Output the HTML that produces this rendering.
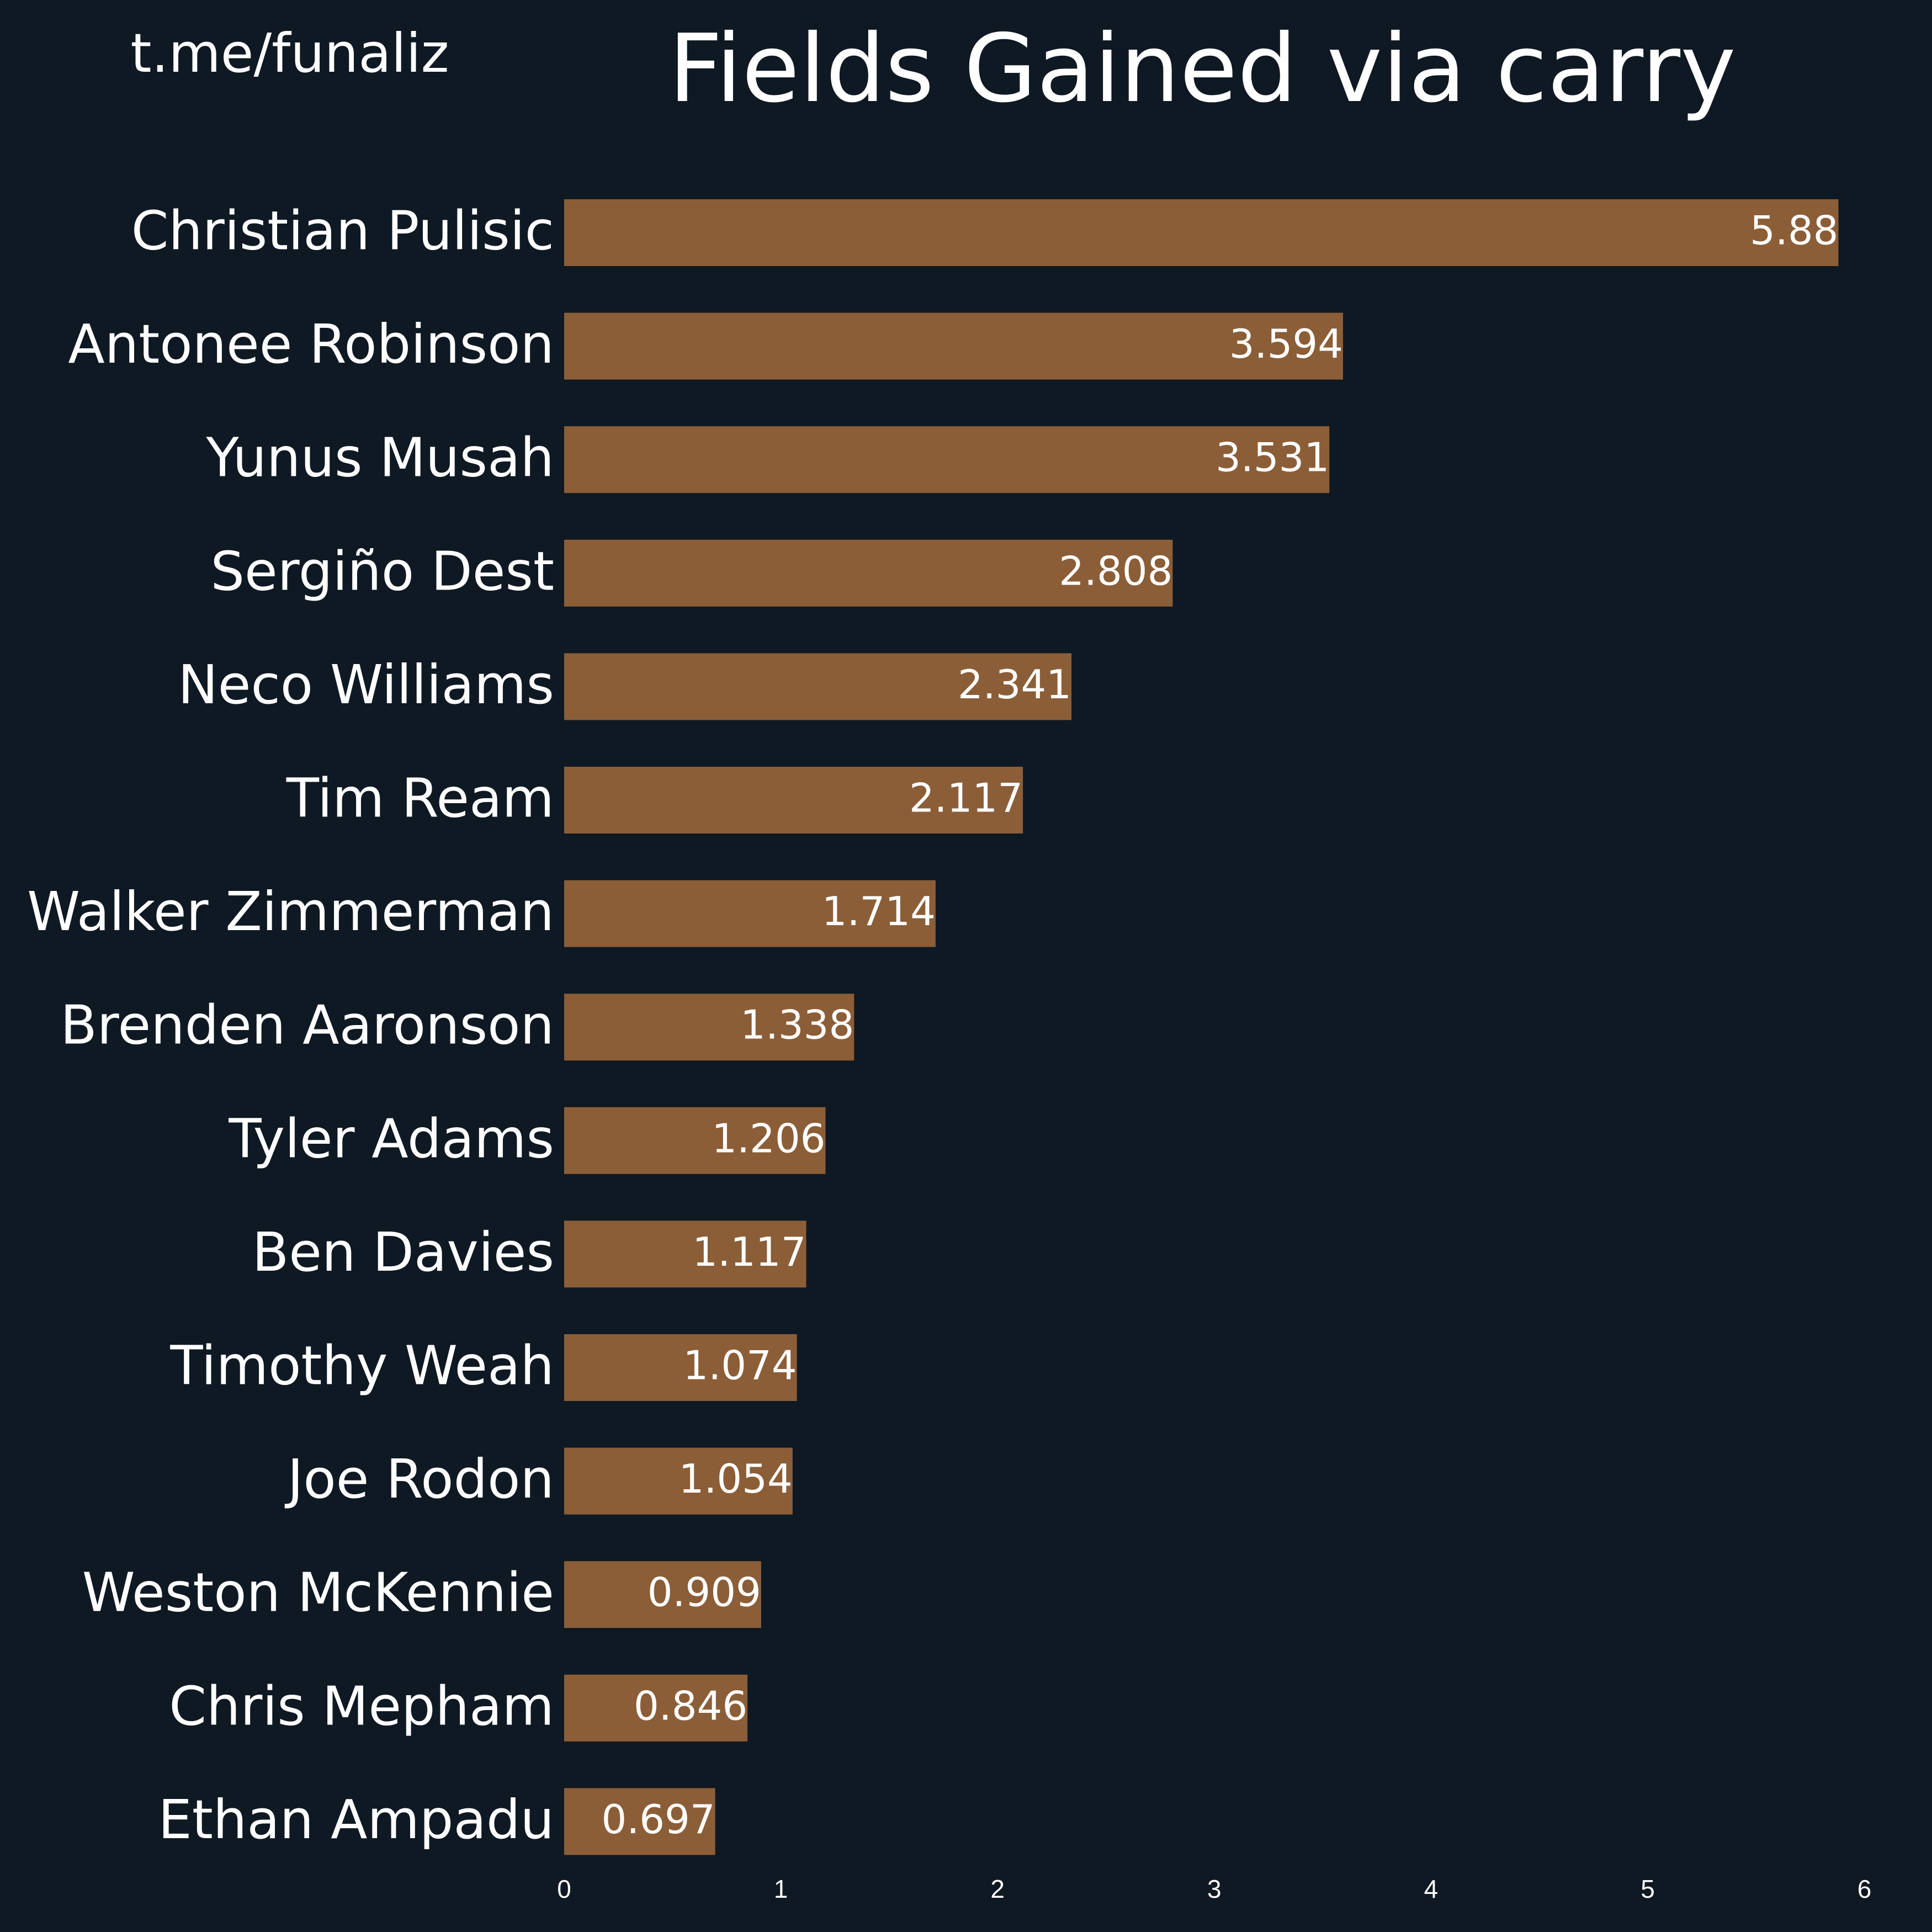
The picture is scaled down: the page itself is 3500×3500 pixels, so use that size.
<!DOCTYPE html>
<html><head><meta charset="utf-8"><style>
html,body{margin:0;padding:0;background:#0f1923;}
svg{display:block;}
</style></head><body>
<svg id="chart" width="3500" height="3500" xmlns="http://www.w3.org/2000/svg">
<rect x="0" y="0" width="3500" height="3500" fill="#0f1923"/>
<text x="525" y="130" font-family="DejaVu Sans, sans-serif" font-size="97" fill="#ffffff" text-anchor="middle">t.me/funaliz</text>
<text x="2178" y="183" font-family="DejaVu Sans, sans-serif" font-size="170" fill="#ffffff" text-anchor="middle">Fields Gained via carry</text>
<g id="bars"></g>
<g id="ticks"></g>
</svg>
<script>
const players = ["Christian Pulisic","Antonee Robinson","Yunus Musah","Sergiño Dest","Neco Williams","Tim Ream","Walker Zimmerman","Brenden Aaronson","Tyler Adams","Ben Davies","Timothy Weah","Joe Rodon","Weston McKennie","Chris Mepham","Ethan Ampadu"];
const values = [5.88,3.594,3.531,2.808,2.341,2.117,1.714,1.338,1.206,1.117,1.074,1.054,0.909,0.846,0.697];
const tickValues = [0,1,2,3,4,5,6];

const NS = "http://www.w3.org/2000/svg";
const x0 = 1022, unit = 392.6;
const xScale = v => x0 + v * unit;
const yTop = 361, pitch = 205.6, barH = 121;
const yScale = i => yTop + i * pitch;

const gb = document.getElementById('bars');
players.forEach((p, i) => {
  const y = yScale(i);
  const r = document.createElementNS(NS, 'rect');
  
  
  r.setAttribute('x', xScale(0));
  r.setAttribute('y', y);
  r.setAttribute('width', xScale(values[i]) - xScale(0));
  r.setAttribute('height', barH);
  r.setAttribute('fill', '#8b5e38');
  gb.appendChild(r);

  const v = document.createElementNS(NS, 'text');
  
  
  v.setAttribute('x', xScale(values[i]));
  v.setAttribute('y', y + barH/2 + 21);
  v.setAttribute('text-anchor', 'end');
  v.setAttribute('font-family', 'DejaVu Sans, sans-serif');
  v.setAttribute('font-size', '72');
  v.setAttribute('fill', '#ffffff');
  v.textContent = String(values[i]);
  gb.appendChild(v);

  const l = document.createElementNS(NS, 'text');
  
  
  l.setAttribute('x', 1004);
  l.setAttribute('y', y + barH/2 + 30);
  l.setAttribute('text-anchor', 'end');
  l.setAttribute('font-family', 'DejaVu Sans, sans-serif');
  l.setAttribute('font-size', '97');
  l.setAttribute('fill', '#ffffff');
  l.textContent = p;
  gb.appendChild(l);
});

const gt = document.getElementById('ticks');
tickValues.forEach(t => {
  const tx = document.createElementNS(NS, 'text');
  
  
  tx.setAttribute('x', xScale(t));
  tx.setAttribute('y', 3438);
  tx.setAttribute('text-anchor', 'middle');
  tx.setAttribute('font-family', 'Liberation Sans, sans-serif');
  tx.setAttribute('font-size', '46');
  tx.setAttribute('fill', '#ffffff');
  tx.textContent = String(t);
  gt.appendChild(tx);
});
</script>
</body></html>
